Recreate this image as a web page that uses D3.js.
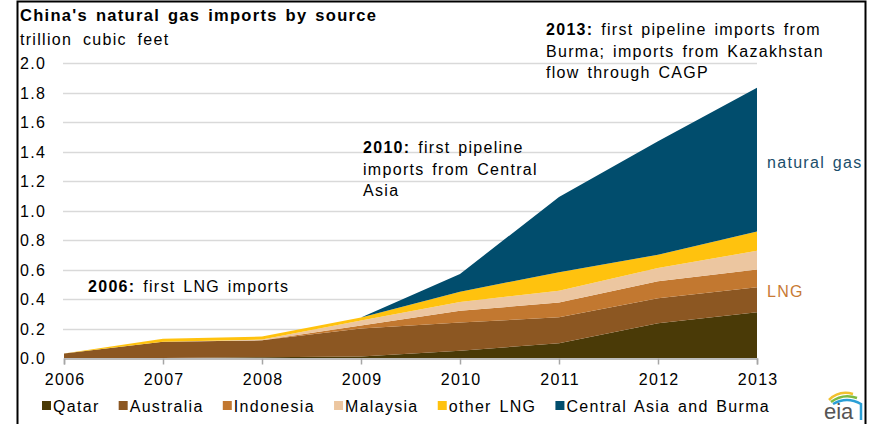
<!DOCTYPE html>
<html><head><meta charset="utf-8">
<script src="https://cdn.jsdelivr.net/npm/d3@7"></script>
<style>body{margin:0;background:#fff}svg{display:block}text{font-family:"Liberation Sans",Arial,sans-serif;letter-spacing:1.3px;word-spacing:2px}</style>
</head><body><svg id="c" width="875" height="424"></svg>
<script>
const years = [2006, 2007, 2008, 2009, 2010, 2011, 2012, 2013];
const qatar      = [0.000, 0.000, 0.005, 0.010, 0.050, 0.100, 0.235, 0.310];
const australia  = [0.030, 0.110, 0.115, 0.190, 0.190, 0.176, 0.170, 0.170];
const indonesia  = [0.000, 0.000, 0.000, 0.020, 0.080, 0.100, 0.115, 0.120];
const malaysia   = [0.000, 0.000, 0.005, 0.035, 0.060, 0.080, 0.090, 0.127];
const otherLNG   = [0.000, 0.020, 0.020, 0.020, 0.070, 0.125, 0.090, 0.130];
const centralAsia= [0.000, 0.000, 0.000, 0.000, 0.120, 0.510, 0.770, 0.975];
const seriesNames = ["Qatar", "Australia", "Indonesia", "Malaysia", "other LNG", "Central Asia and Burma"];
const seriesColors = ["#4a3a07", "#8c5722", "#c27830", "#ecc6a0", "#ffc20e", "#014d6d"];
const yTicks = [0, 0.2, 0.4, 0.6, 0.8, 1.0, 1.2, 1.4, 1.6, 1.8, 2.0];

const svg = d3.select("#c");
const x = d3.scaleLinear().domain([2006, 2013]).range([64, 757]);
const y = d3.scaleLinear().domain([0, 2]).range([358, 63]);

// frame
svg.append("path").attr("d", "M17.5,424 V1.5 H865.5 V424").attr("fill", "none").attr("stroke", "#000").attr("stroke-width", 2);

// title
svg.append("text").attr("x", 20).attr("y", 21).attr("font-weight", "bold").attr("font-size", 16.5).attr("fill", "#000")
  .text("China's natural gas imports by source");
svg.append("text").attr("x", 20).attr("y", 45).attr("font-size", 16).attr("fill", "#000")
  .style("word-spacing", "5px").text("trillion cubic feet");

// grid
svg.append("g").selectAll("line").data(yTicks.filter(d => d > 0)).join("line")
  .attr("x1", 63).attr("x2", 757).attr("y1", d => Math.round(y(d)) + 0.5).attr("y2", d => Math.round(y(d)) + 0.5)
  .attr("stroke", "#d9d9d9").attr("stroke-width", 1.5);

// y labels
svg.append("g").selectAll("text").data(yTicks).join("text")
  .attr("x", 20).attr("y", d => y(d) + 6).attr("font-size", 16).attr("fill", "#000")
  .text(d => d3.format(".1f")(d));

// stacked areas
const table = years.map((yr, i) => ({year: yr, Qatar: qatar[i], Australia: australia[i], Indonesia: indonesia[i],
  Malaysia: malaysia[i], "other LNG": otherLNG[i], "Central Asia and Burma": centralAsia[i]}));
const stack = d3.stack().keys(seriesNames)(table);
const area = d3.area().x(d => x(d.data.year)).y0(d => y(d[0])).y1(d => y(d[1]));
svg.append("g").selectAll("path").data(stack).join("path")
  .attr("d", area).attr("fill", (d, i) => seriesColors[i]);

// x axis
const xAxis = d3.axisBottom(x).tickValues(years).tickFormat(d3.format("d")).tickSize(6).tickPadding(9);
const gx = svg.append("g").attr("transform", "translate(0,358.5)").call(xAxis);
gx.select(".domain").attr("stroke", "#a6a6a6").attr("stroke-width", 1.5);
gx.selectAll(".tick line").attr("stroke", "#a6a6a6").attr("stroke-width", 1.5);
gx.selectAll(".tick text").attr("font-size", 16).attr("fill", "#000").attr("dx", "0.65px")
  .attr("font-family", "'Liberation Sans',Arial,sans-serif");

// annotations
function note(x0, y0, bold, lines) {
  const t = svg.append("text").attr("x", x0).attr("y", y0).attr("font-size", 16).attr("fill", "#000");
  t.append("tspan").attr("font-weight", "bold").text(bold);
  t.append("tspan").text(" " + lines[0]);
  lines.slice(1).forEach((l, i) => {
    svg.append("text").attr("x", x0).attr("y", y0 + 21.5 * (i + 1)).attr("font-size", 16).attr("fill", "#000").text(l);
  });
}
note(88, 292, "2006:", ["first LNG imports"]);
note(363, 153, "2010:", ["first pipeline", "imports from Central", "Asia"]);
note(546, 35, "2013:", ["first pipeline imports from", "Burma; imports from Kazakhstan", "flow through CAGP"]);

svg.append("text").attr("x", 767).attr("y", 168).attr("font-size", 16).attr("fill", "#1b4e6b").text("natural gas");
svg.append("text").attr("x", 767).attr("y", 297).attr("font-size", 16).attr("fill", "#c87a35").text("LNG");

// legend
const lg = svg.append("g");
let lx = 42;
const items = [];
seriesNames.forEach((n, i) => {
  const g = lg.append("g");
  g.append("rect").attr("x", 0).attr("y", 401).attr("width", 9).attr("height", 9).attr("fill", seriesColors[i]);
  const t = g.append("text").attr("x", 11).attr("y", 412).attr("font-size", 16).attr("fill", "#000").text(n);
  items.push({g, w: 11 + t.node().getComputedTextLength()});
});
const total = items.reduce((s, d) => s + d.w, 0);
const gap = (770 - 42 - total) / (items.length - 1);
items.forEach(d => { d.g.attr("transform", `translate(${lx},0)`); lx += d.w + gap; });

// eia logo
const logo = svg.append("g").attr("transform", "translate(823,392)");
logo.append("path").attr("d", "M6,8 Q16,-2 30,2").attr("fill", "none").attr("stroke", "#f2c12e").attr("stroke-width", 2.5);
logo.append("path").attr("d", "M8,10 Q20,1 34,6").attr("fill", "none").attr("stroke", "#7dbb42").attr("stroke-width", 2.5);
logo.append("path").attr("d", "M10,12 Q24,4 38,12 L38,28").attr("fill", "none").attr("stroke", "#2a9fd6").attr("stroke-width", 2.5);
logo.append("text").attr("x", 1).attr("y", 27).attr("font-size", 22).attr("fill", "#555").style("letter-spacing", "0")
  .attr("font-family", "'Liberation Serif','DejaVu Serif',serif").text("eia");
</script></body></html>
